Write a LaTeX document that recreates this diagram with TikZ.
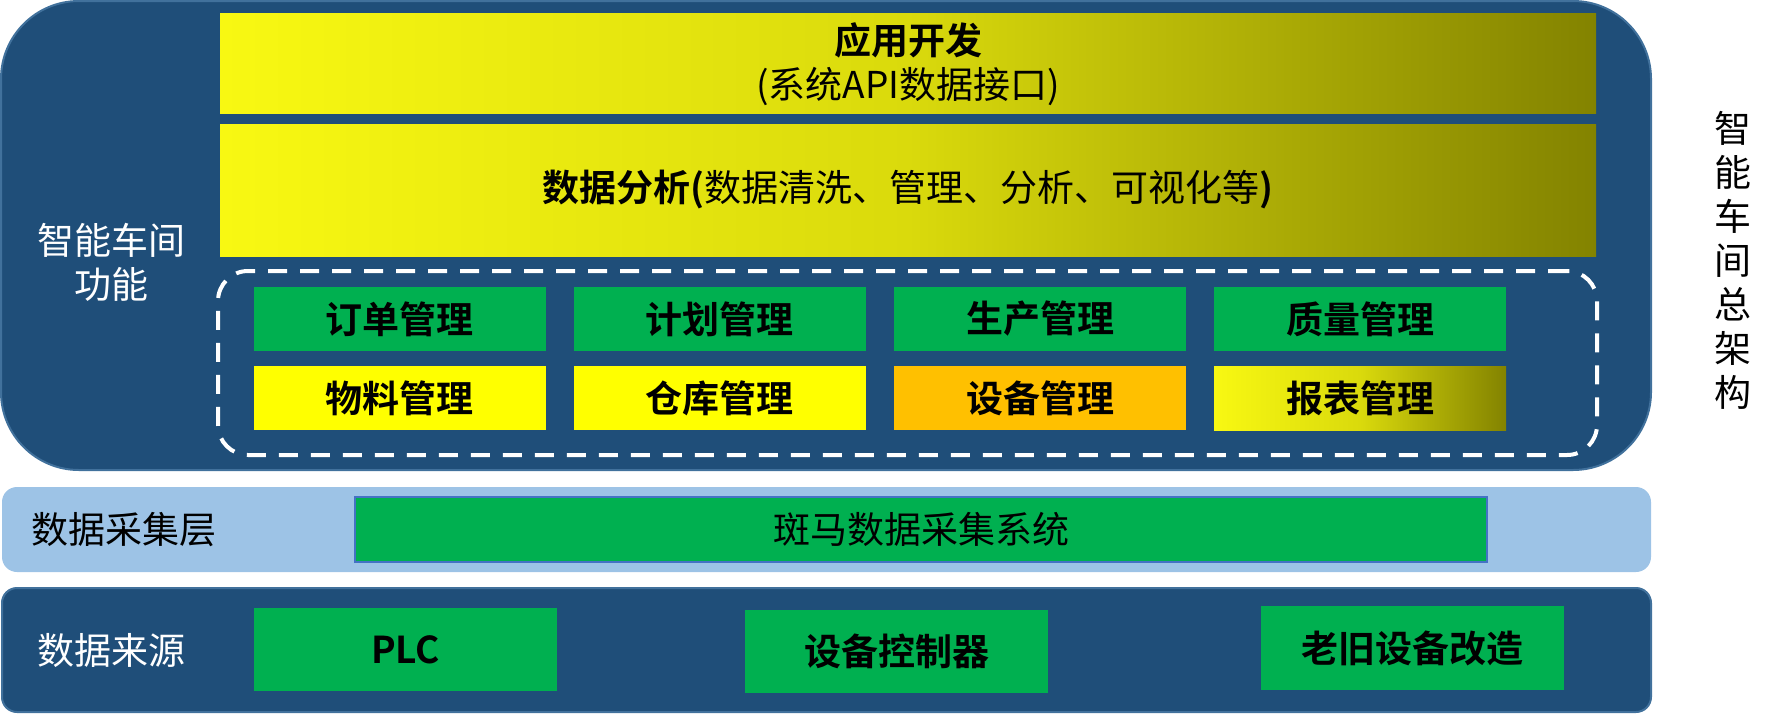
\documentclass[tikz,border=0pt]{standalone}
\usepackage{fontspec}
\setmainfont{Noto Sans CJK SC}[BoldFont={Noto Sans CJK SC Bold}]
\definecolor{panelblue}{HTML}{1F4E79}
\definecolor{panelborder}{HTML}{41719C}
\definecolor{lightlayer}{HTML}{9DC3E6}
\definecolor{modgreen}{HTML}{00B050}
\definecolor{modyellow}{HTML}{FFFF00}
\definecolor{modorange}{HTML}{FFC000}
\definecolor{gradleft}{HTML}{F8F812}
\definecolor{gradmid}{HTML}{DADA0C}
\definecolor{gradright}{HTML}{838300}
\definecolor{greenborder}{HTML}{4472C4}
\tikzset{
  txt/.style={font=\fontsize{37}{44}\selectfont, inner sep=0pt, align=center},
  panel/.style={fill=panelblue, draw=panelborder, line width=2pt, inner sep=0pt, outer sep=0pt},
  layerlight/.style={fill=lightlayer, inner sep=0pt, outer sep=0pt, rounded corners=15pt},
  gradbox/.style={inner sep=0pt, outer sep=0pt, left color=gradleft, right color=gradright, middle color=gradmid},
  modbox/.style={inner sep=0pt, outer sep=0pt, minimum width=292pt, minimum height=64pt,
    font=\fontsize{37}{44}\selectfont\bfseries, text=black},
  srcbox/.style={fill=modgreen, inner sep=0pt, outer sep=0pt, minimum width=303pt, minimum height=83pt,
    font=\fontsize{37}{44}\selectfont\bfseries, text=black},
  dashframe/.style={draw=white, line width=4pt, dash pattern=on 19pt off 13pt, rounded corners=30pt,
    inner sep=0pt, outer sep=0pt},
}
\begin{document}
\begin{tikzpicture}[x=1pt, y=-1pt]
\useasboundingbox (0,0) rectangle (1770,713);
% top panel
\node[panel, rounded corners=78pt, minimum width=1650pt, minimum height=469pt] (top) at (826,235.5) {};
\node[gradbox, minimum width=1376pt, minimum height=100pt] (app) at (908,63) {};
\node[txt] (apptxt) at (908,64) {\textbf{应用开发}\\(系统API数据接口)};
\node[gradbox, minimum width=1376pt, minimum height=132pt] (ana) at (908,190) {};
\node[txt] (anatxt) at (908,190) {\textbf{数据分析(}数据清洗、管理、分析、可视化等\textbf{)}};
\node[dashframe, minimum width=1379pt, minimum height=184pt] (frame) at (907.5,363) {};
% modules
\node[modbox, fill=modgreen] (m1) at (399.5,319) {订单管理};
\node[modbox, fill=modgreen] (m2) at (719.5,319) {计划管理};
\node[modbox, fill=modgreen] (m3) at (1040,319) {生产管理};
\node[modbox, fill=modgreen] (m4) at (1360,319) {质量管理};
\node[modbox, fill=modyellow] (m5) at (399.5,398) {物料管理};
\node[modbox, fill=modyellow] (m6) at (719.5,398) {仓库管理};
\node[modbox, fill=modorange] (m7) at (1040,398) {设备管理};
\node[modbox, left color=gradleft, right color=gradright, middle color=gradmid] (m8) at (1360,398) {报表管理};
\node[txt, text=white] (ltitle) at (111,262) {智能车间\\功能};
\node[txt, text=black] (rtitle) at (1733,260) {智\\能\\车\\间\\总\\架\\构};
% data collection layer
\node[layerlight, minimum width=1649pt, minimum height=85pt] (collect) at (826.5,529.5) {};
\node[fill=modgreen, draw=greenborder, line width=1.5pt, inner sep=0pt, minimum width=1132pt, minimum height=65pt] (zebra) at (921,529.5) {};
\node[txt, text=black] (zebratxt) at (921,529.5) {斑马数据采集系统};
\node[txt, text=black] (collecttxt) at (124,529.5) {数据采集层};
% data source layer
\node[panel, rounded corners=15pt, minimum width=1649pt, minimum height=124pt] (source) at (826.5,650) {};
\node[txt, text=white] (sourcetxt) at (111,650) {数据来源};
\node[srcbox] (plc) at (405.5,649.5) {PLC};
\node[srcbox] (ctrl) at (896.5,651.5) {设备控制器};
\node[srcbox, minimum height=84pt] (old) at (1412,648) {老旧设备改造};
\end{tikzpicture}
\end{document}
